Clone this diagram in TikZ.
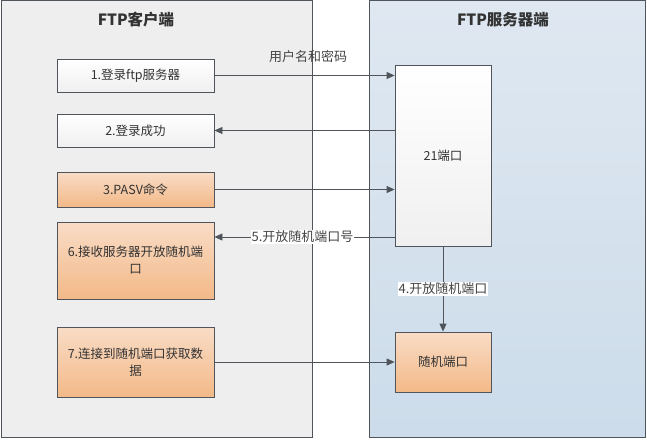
\documentclass[tikz,border=0pt]{standalone}
\usepackage{fontspec}
\setmainfont{Noto Sans CJK SC}
\usetikzlibrary{arrows.meta}
\definecolor{edge}{HTML}{50555C}
\definecolor{clientbg}{HTML}{EEEEEE}
\definecolor{serverbgtop}{HTML}{DFE8F1}
\definecolor{serverbgbot}{HTML}{CCDCEA}
\definecolor{orangetop}{HTML}{F9DCC6}
\definecolor{orangebot}{HTML}{F3B988}
\definecolor{txt}{HTML}{333333}
\definecolor{labtxt}{HTML}{444444}
\tikzset{
  panel/.style={draw=edge, line width=0.8pt},
  whitebox/.style={draw=edge, line width=0.8pt, top color=white, bottom color=black!6, text=txt, font=\fontsize{12.5}{17}\selectfont, align=center, inner sep=2pt},
  orangebox/.style={draw=edge, line width=0.8pt, top color=orangetop, bottom color=orangebot, text=txt, font=\fontsize{12.5}{17}\selectfont, align=center, inner sep=2pt},
  arr/.style={draw=edge, line width=0.8pt, -{Triangle[length=8pt,width=7pt]}},
  lab/.style={text=labtxt, font=\fontsize{13}{15}\selectfont, inner sep=1pt},
  title/.style={text=txt, font=\fontsize{15.5}{18}\selectfont\bfseries},
}
\begin{document}
\begin{tikzpicture}[x=1pt,y=-1pt]
\useasboundingbox (0,0) rectangle (647,439);
\fill[white] (0,0) rectangle (647,439);
% panels
\path[panel, fill=clientbg] (1,0) rectangle (312,437);
\path[panel, top color=serverbgtop, bottom color=serverbgbot] (369,0) rectangle (645,437);
\node[title] (tc) at (136,20) {FTP客户端};
\node[title] (ts) at (503,20) {FTP服务器端};
% client boxes
\node[whitebox, minimum width=157pt, minimum height=33pt] (b1) at (135.5,75.5) {1.登录ftp服务器};
\node[whitebox, minimum width=157pt, minimum height=33pt] (b2) at (135.5,130.5) {2.登录成功};
\node[orangebox, minimum width=157pt, minimum height=35pt] (b3) at (135.5,189.5) {3.PASV命令};
\node[orangebox, minimum width=157pt, minimum height=77pt] (b6) at (135.5,260.5) {6.接收服务器开放随机端\\口};
\node[orangebox, minimum width=157pt, minimum height=70pt] (b7) at (135.5,362) {7.连接到随机端口获取数\\据};
% server boxes
\node[whitebox, minimum width=96pt, minimum height=181pt] (s21) at (443,155.5) {21端口};
\node[orangebox, minimum width=96pt, minimum height=60pt] (sr) at (443,362) {随机端口};
% connectors
\coordinate (p1) at (b1.east -| s21.west);
\draw[arr] (b1.east) -- (p1);
\node[lab] (l1) at (308,57) {用户名和密码};
\coordinate (p2) at (b2.east -| s21.west);
\draw[arr] (p2) -- (b2.east);
\coordinate (p3) at (b3.east -| s21.west);
\draw[arr] (b3.east) -- (p3);
\coordinate (p6a) at (s21.west |- 0,237);
\coordinate (p6b) at (b6.east |- 0,237);
\draw[arr] (p6a) -- (p6b) node[lab, midway, fill=white, xshift=-2pt] (l5) {5.开放随机端口号};
\draw[arr] (s21.south) -- (sr.north) node[lab, pos=0.5, fill=white] (l4) {4.开放随机端口};
\coordinate (p7) at (b7.east -| sr.west);
\draw[arr] (b7.east) -- (p7);
\end{tikzpicture}
\end{document}
